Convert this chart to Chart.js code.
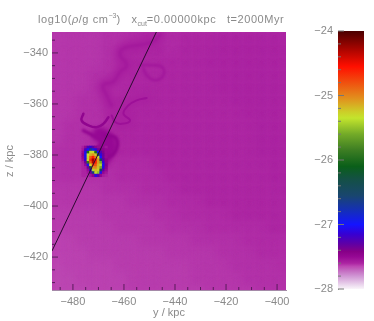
<!DOCTYPE html>
<html>
<head>
<meta charset="utf-8">
<script src="https://cdn.jsdelivr.net/npm/chart.js@4/dist/chart.umd.js"></script>
<style>
html, body { margin: 0; padding: 0; background: #fff; }
#wrap { position: relative; width: 374px; height: 321px; overflow: hidden; filter: blur(0.45px); }
canvas { position: absolute; top: 0; }
#main { left: 0; }
#bar { left: 300px; }
#title { position: absolute; left: 38px; top: 12px; color: #8a8a8a; white-space: pre; letter-spacing: 0.55px;
  font: 11px "Liberation Sans", sans-serif; line-height: 14px; }
#title sup, #title sub { font-size: 7px; line-height: 0; letter-spacing: 0; }
</style>
</head>
<body>
<div id="wrap">
  <canvas id="main" width="300" height="321"></canvas>
  <canvas id="bar" width="74" height="321"></canvas>
  <div id="title">log10(<i>ρ</i>/g cm<sup>−3</sup>)   x<sub>cut</sub>=0.00000kpc   t=2000Myr</div>
</div>
<script>
// colour table
const paletteValues = [-28, -27.95, -27.8, -27.7, -27.65, -27.6, -27.5, -27.42, -27.3, -27.15, -27.0, -26.8, -26.55, -26.3, -26.1, -25.85, -25.6, -25.35, -25.25, -25.05, -24.8, -24.55, -24.3, -24];
const paletteColors = [
  [250, 245, 250], [238, 222, 240], [208, 150, 212], [194, 100, 190], [190, 72, 180], [172, 36, 162],
  [150, 8, 148], [135, 0, 135], [95, 0, 165], [55, 0, 210], [20, 20, 255], [20, 45, 190], [25, 70, 110],
  [20, 80, 70], [10, 95, 25], [60, 125, 35], [115, 170, 40], [195, 228, 45], [205, 205, 40], [225, 145, 30],
  [240, 80, 15], [255, 15, 0], [175, 5, 0], [75, 0, 0]
];

const xTicks = [-480, -460, -440, -420, -400];
const xMinor = [-485, -475, -470, -465, -455, -450, -445, -435, -430, -425, -415, -410, -405];
const zTicks = [-340, -360, -380, -400, -420];
const zMinor = [-335, -345, -350, -355, -365, -370, -375, -385, -390, -395, -405, -410, -415, -425, -430];
const barTicks = [-28, -27, -26, -25, -24];
const barMinor = [-27.8, -27.6, -27.4, -27.2, -26.8, -26.6, -26.4, -26.2, -25.8, -25.6, -25.4, -25.2, -24.8, -24.6, -24.4, -24.2];

// smooth background, log density on a 5 kpc grid
const bgY = [-486, -481, -476, -471, -466, -461, -456, -451, -446, -441, -436, -431, -426, -421, -416, -411, -406, -401, -396];
const bgZ = [-334, -339, -344, -349, -354, -359, -364, -369, -374, -379, -384, -389, -394, -399, -404, -409, -414, -419, -424, -429, -434];
const bgValues = [
  [-27.63,-27.63,-27.63,-27.63,-27.62,-27.62,-27.61,-27.60,-27.61,-27.61,-27.60,-27.60,-27.60,-27.59,-27.59,-27.59,-27.59,-27.59,-27.59],
  [-27.63,-27.63,-27.63,-27.63,-27.62,-27.62,-27.60,-27.60,-27.60,-27.61,-27.60,-27.60,-27.60,-27.59,-27.59,-27.59,-27.59,-27.59,-27.59],
  [-27.63,-27.63,-27.63,-27.63,-27.62,-27.61,-27.60,-27.60,-27.60,-27.60,-27.60,-27.60,-27.59,-27.59,-27.59,-27.59,-27.59,-27.59,-27.59],
  [-27.63,-27.63,-27.63,-27.62,-27.62,-27.61,-27.60,-27.60,-27.60,-27.60,-27.60,-27.60,-27.60,-27.59,-27.59,-27.59,-27.59,-27.59,-27.59],
  [-27.63,-27.63,-27.63,-27.62,-27.62,-27.61,-27.60,-27.60,-27.60,-27.60,-27.60,-27.60,-27.60,-27.59,-27.59,-27.59,-27.59,-27.59,-27.59],
  [-27.63,-27.63,-27.62,-27.62,-27.61,-27.60,-27.60,-27.60,-27.60,-27.60,-27.60,-27.60,-27.60,-27.60,-27.59,-27.59,-27.59,-27.59,-27.59],
  [-27.63,-27.63,-27.62,-27.62,-27.61,-27.60,-27.60,-27.60,-27.60,-27.60,-27.60,-27.60,-27.60,-27.60,-27.60,-27.59,-27.59,-27.59,-27.59],
  [-27.63,-27.62,-27.62,-27.62,-27.61,-27.60,-27.60,-27.60,-27.60,-27.60,-27.60,-27.60,-27.60,-27.60,-27.60,-27.60,-27.59,-27.59,-27.59],
  [-27.63,-27.62,-27.62,-27.61,-27.60,-27.60,-27.60,-27.60,-27.60,-27.60,-27.60,-27.60,-27.60,-27.60,-27.60,-27.60,-27.59,-27.59,-27.59],
  [-27.62,-27.62,-27.62,-27.61,-27.60,-27.60,-27.60,-27.60,-27.60,-27.60,-27.60,-27.60,-27.60,-27.60,-27.60,-27.60,-27.59,-27.59,-27.59],
  [-27.62,-27.62,-27.62,-27.61,-27.61,-27.61,-27.61,-27.61,-27.60,-27.60,-27.60,-27.60,-27.60,-27.60,-27.60,-27.60,-27.60,-27.59,-27.59],
  [-27.62,-27.62,-27.62,-27.62,-27.62,-27.61,-27.61,-27.61,-27.61,-27.60,-27.60,-27.60,-27.60,-27.60,-27.60,-27.60,-27.60,-27.59,-27.59],
  [-27.63,-27.63,-27.63,-27.63,-27.62,-27.62,-27.62,-27.61,-27.61,-27.61,-27.60,-27.60,-27.60,-27.60,-27.60,-27.60,-27.60,-27.60,-27.59],
  [-27.63,-27.63,-27.63,-27.63,-27.63,-27.63,-27.62,-27.62,-27.62,-27.61,-27.61,-27.61,-27.60,-27.60,-27.60,-27.60,-27.60,-27.60,-27.60],
  [-27.64,-27.64,-27.64,-27.64,-27.63,-27.63,-27.63,-27.63,-27.62,-27.62,-27.61,-27.61,-27.61,-27.61,-27.60,-27.60,-27.60,-27.60,-27.60],
  [-27.64,-27.64,-27.64,-27.64,-27.64,-27.63,-27.63,-27.63,-27.63,-27.62,-27.62,-27.62,-27.61,-27.61,-27.61,-27.61,-27.61,-27.60,-27.60],
  [-27.65,-27.65,-27.64,-27.64,-27.64,-27.64,-27.64,-27.63,-27.63,-27.63,-27.63,-27.62,-27.62,-27.62,-27.62,-27.61,-27.61,-27.61,-27.61],
  [-27.65,-27.65,-27.65,-27.64,-27.64,-27.64,-27.64,-27.64,-27.64,-27.63,-27.63,-27.63,-27.63,-27.62,-27.62,-27.62,-27.61,-27.61,-27.61],
  [-27.66,-27.65,-27.65,-27.65,-27.65,-27.64,-27.64,-27.64,-27.64,-27.64,-27.64,-27.63,-27.63,-27.63,-27.62,-27.62,-27.62,-27.62,-27.61],
  [-27.66,-27.66,-27.65,-27.65,-27.65,-27.65,-27.64,-27.64,-27.64,-27.64,-27.64,-27.63,-27.63,-27.63,-27.63,-27.62,-27.62,-27.62,-27.62],
  [-27.66,-27.66,-27.66,-27.65,-27.65,-27.65,-27.64,-27.64,-27.64,-27.64,-27.64,-27.64,-27.63,-27.63,-27.63,-27.63,-27.62,-27.62,-27.62]
];

// dense clump, log density on a 1 kpc grid
const clumpY = [-476, -475, -474, -473, -472, -471, -470, -469, -468, -467];
const clumpZ = [-377, -378, -379, -380, -381, -382, -383, -384, -385, -386, -387, -388];
const clumpValues = [
  [-27.58,-27.48,-27.25,-27.15,-27.30,-27.45,-27.50,-27.50,-27.50,-27.55],
  [-27.55,-27.22,-27.02,-26.60,-26.90,-27.10,-27.35,-27.40,-27.45,-27.50],
  [-27.50,-27.08,-26.00,-25.30,-25.30,-26.00,-27.02,-27.25,-27.40,-27.50],
  [-27.45,-27.05,-25.35,-25.15,-25.05,-25.22,-26.30,-27.10,-27.35,-27.50],
  [-27.48,-27.05,-25.28,-24.85,-24.60,-24.95,-25.28,-27.00,-27.35,-27.50],
  [-27.52,-27.15,-25.32,-24.65,-24.25,-24.60,-25.08,-26.40,-27.25,-27.45],
  [-27.58,-27.35,-25.90,-24.85,-24.32,-24.60,-25.08,-25.60,-27.12,-27.45],
  [-27.60,-27.50,-27.05,-25.30,-24.72,-24.80,-25.15,-25.40,-27.05,-27.40],
  [-27.60,-27.58,-27.35,-26.30,-25.05,-25.00,-25.20,-25.60,-27.08,-27.45],
  [-27.60,-27.60,-27.50,-27.15,-25.40,-25.18,-25.25,-26.40,-27.30,-27.50],
  [-27.60,-27.60,-27.55,-27.35,-26.60,-25.30,-25.50,-27.05,-27.48,-27.55],
  [-27.60,-27.60,-27.60,-27.55,-27.45,-27.10,-27.25,-27.48,-27.57,-27.60]
];

// thin wisps trailing from the clump
const wispAY = [-445.9, -448.5, -453.7, -460.2, -461.5, -458.9, -461.5, -464.2, -468.1, -466.8, -464.8];
const wispAZ = [-332.9, -335.5, -336.9, -338.2, -340.8, -344.8, -347.4, -351.3, -352.7, -356.6, -360.6];
const wispBY = [-453.7, -449.8, -445.2, -444.5, -447.8, -451.1, -452.4];
const wispBZ = [-344.8, -344.8, -345.4, -348.7, -350.7, -348.7, -346.1];
const wispCY = [-451.1, -455, -458.3, -460.2, -457.6, -460.9, -463.5, -464.8];
const wispCZ = [-357.7, -358.6, -360.6, -363.8, -366.5, -367.8, -367.1, -364.5];
const wispDY = [-475.9, -476.6, -473.9, -470.7, -468.1, -466.1];
const wispDZ = [-363.8, -366.5, -368.4, -369.1, -367.8, -365.2];
const wispEY = [-475.9, -472, -468.7, -470.7];
const wispEZ = [-370.4, -372.4, -374.4, -377.7];
const wispFY = [-467.4, -463.5, -462.6, -464.2, -467.4, -469.4];
const wispFZ = [-372.4, -373.1, -376.3, -379.6, -381.6, -384.2];
const haloY = [-469.5, -466.5, -466, -467.5, -469.5];
const haloZ = [-372, -374, -377, -380.3, -383];

const cutLineY = [-447.3, -488.2];
const cutLineZ = [-331.8, -417.6];

function colorAt(v) {
  let i = 0;
  while (i < paletteValues.length - 2 && v > paletteValues[i + 1]) i++;
  const t = Math.min(1, Math.max(0, (v - paletteValues[i]) / (paletteValues[i + 1] - paletteValues[i])));
  const a = paletteColors[i], b = paletteColors[i + 1];
  return 'rgb(' + a.map((c, k) => Math.round(c + (b[k] - c) * t)).join(',') + ')';
}

const cells = (ys, zs, values) => {
  const out = [];
  zs.forEach((z, r) => ys.forEach((y, c) => out.push({ x: y, y: z, v: values[r][c] })));
  return out;
};
const path = (ys, zs) => ys.map((y, i) => ({ x: y, y: zs[i] }));

// squares sized in kpc through the x scale (rect points have side r*sqrt2)
const cellRadius = (chart, kpc) => {
  const s = chart.scales.x;
  return (Math.abs(s.getPixelForValue(kpc) - s.getPixelForValue(0)) + 0.7) / Math.SQRT2;
};

const cellSet = (data, kpc, soft) => ({
  type: 'scatter', data, showLine: false, clip: 0, soft,
  pointStyle: 'rect', borderWidth: 0, pointBorderWidth: 0,
  pointRadius: (c) => cellRadius(c.chart, kpc),
  pointBackgroundColor: (c) => colorAt(c.raw.v)
});
const wispSet = (ys, zs, value, width, soft) => ({
  type: 'line', data: path(ys, zs), borderColor: colorAt(value), borderWidth: width,
  tension: 0.45, pointRadius: 0, fill: false, borderCapStyle: 'round', soft
});

const gray = '#8a8a8a';
const tickFont = { family: '"Liberation Sans", sans-serif', size: 11 };
const minus = (v) => String(v).replace('-', '−');

// the original map is smooth: blur the cells while they are painted
const softCells = {
  id: 'softCells',
  beforeDatasetDraw(chart, args) {
    const ds = chart.data.datasets[args.index];
    chart.ctx.save();
    if (ds.soft >= 5) {
      const a = chart.chartArea;
      chart.ctx.fillStyle = colorAt(-27.62);
      chart.ctx.fillRect(a.left, a.top, a.right - a.left, a.bottom - a.top);
    }
    if (ds.soft) chart.ctx.filter = 'blur(' + ds.soft + 'px)';
  },
  afterDatasetDraw(chart) {
    chart.ctx.restore();
  }
};

// ticks point inward, as in the original plot
const inwardTicks = {
  id: 'inwardTicks',
  afterDatasetsDraw(chart, args, opts) {
    const ctx = chart.ctx, a = chart.chartArea;
    ctx.save();
    ctx.strokeStyle = opts.color;
    ctx.lineWidth = 1;
    const mark = (x0, y0, x1, y1) => {
      ctx.beginPath(); ctx.moveTo(x0, y0); ctx.lineTo(x1, y1); ctx.stroke();
    };
    if (opts.xMajor) {
      opts.xMajor.forEach((v) => { const p = chart.scales.x.getPixelForValue(v); mark(p, a.bottom, p, a.bottom - 6); });
      opts.xMinor.forEach((v) => { const p = chart.scales.x.getPixelForValue(v); mark(p, a.bottom, p, a.bottom - 3); });
    }
    opts.yMajor.forEach((v) => { const p = chart.scales.y.getPixelForValue(v); mark(a.left, p, a.left + 6, p); });
    opts.yMinor.forEach((v) => { const p = chart.scales.y.getPixelForValue(v); mark(a.left, p, a.left + 3, p); });
    ctx.restore();
  }
};

// Chart.js paints the first dataset last, so list them top to bottom
new Chart(document.getElementById('main'), {
  data: {
    datasets: [
      { type: 'line', data: path(cutLineY, cutLineZ), borderColor: '#2a0a30', borderWidth: 1, pointRadius: 0, tension: 0 },
      cellSet(cells(clumpY, clumpZ, clumpValues), 1, 0.7),
      wispSet(wispFY, wispFZ, -27.47, 3.5, 1),
      wispSet(haloY, haloZ, -27.5, 15, 2),
      wispSet(wispEY, wispEZ, -27.48, 3.5, 1),
      wispSet(wispDY, wispDZ, -27.47, 2.5, 0.7),
      wispSet(wispCY, wispCZ, -27.53, 2, 0.7),
      wispSet(wispBY, wispBZ, -27.55, 2.5, 0.8),
      wispSet(wispAY, wispAZ, -27.56, 3, 1),
      wispSet(wispCY, wispCZ, -27.585, 9, 3),
      wispSet(wispAY, wispAZ, -27.585, 12, 3),
      cellSet(cells(bgY, bgZ, bgValues), 5, 5)
    ]
  },
  options: {
    responsive: false,
    animation: false,
    devicePixelRatio: 1,
    layout: { padding: { top: 32, right: 14, left: 0, bottom: 0 } },
    plugins: {
      legend: { display: false },
      tooltip: { enabled: false },
      inwardTicks: { color: '#5a1a5c', xMajor: xTicks, xMinor: xMinor, yMajor: zTicks, yMinor: zMinor }
    },
    scales: {
      x: {
        type: 'linear', min: -488.2, max: -396.5,
        afterFit: (s) => { s.height = 31; },
        afterBuildTicks: (s) => { s.ticks = xTicks.map((v) => ({ value: v })); },
        grid: { display: false, drawTicks: false },
        border: { display: true, color: '#a58aa8' },
        ticks: { color: gray, font: tickFont, padding: 5, maxRotation: 0, callback: minus },
        title: { display: true, text: 'y / kpc', color: gray, font: tickFont, padding: { top: 0, bottom: 1 } }
      },
      y: {
        type: 'linear', min: -432.9, max: -331.8,
        afterFit: (s) => { s.width = 52; },
        afterBuildTicks: (s) => { s.ticks = zTicks.map((v) => ({ value: v })); },
        grid: { display: false, drawTicks: false },
        border: { display: true, color: '#a58aa8' },
        ticks: { color: gray, font: tickFont, padding: 4, callback: minus },
        title: { display: true, text: 'z / kpc', color: gray, font: tickFont, padding: { top: 3, bottom: 0 } }
      }
    }
  },
  plugins: [softCells, inwardTicks]
});

new Chart(document.getElementById('bar'), {
  type: 'bar',
  data: {
    labels: ['log10'],
    datasets: [{
      data: [[-28, -24]],
      categoryPercentage: 1,
      barPercentage: 1,
      backgroundColor: (c) => {
        const s = c.chart.scales.y;
        const y0 = s ? s.getPixelForValue(-28) : NaN;
        const y1 = s ? s.getPixelForValue(-24) : NaN;
        if (!Number.isFinite(y0) || !Number.isFinite(y1)) return '#000';
        const g = c.chart.ctx.createLinearGradient(0, y0, 0, y1);
        paletteValues.forEach((v, i) => g.addColorStop((v + 28) / 4, colorAt(v)));
        return g;
      }
    }]
  },
  options: {
    responsive: false,
    animation: false,
    devicePixelRatio: 1,
    layout: { padding: { top: 31, right: 10, left: 0, bottom: 32 } },
    plugins: {
      legend: { display: false },
      tooltip: { enabled: false },
      inwardTicks: { color: '#777', yMajor: barTicks, yMinor: barMinor }
    },
    scales: {
      x: { display: false },
      y: {
        type: 'linear', min: -28, max: -24,
        afterFit: (s) => { s.width = 38; },
        afterBuildTicks: (s) => { s.ticks = barTicks.map((v) => ({ value: v })); },
        grid: { display: false, drawTicks: false },
        border: { display: true, color: '#aaa' },
        ticks: { color: gray, font: tickFont, padding: 5, callback: minus }
      }
    }
  },
  plugins: [inwardTicks]
});
</script>
</body>
</html>
